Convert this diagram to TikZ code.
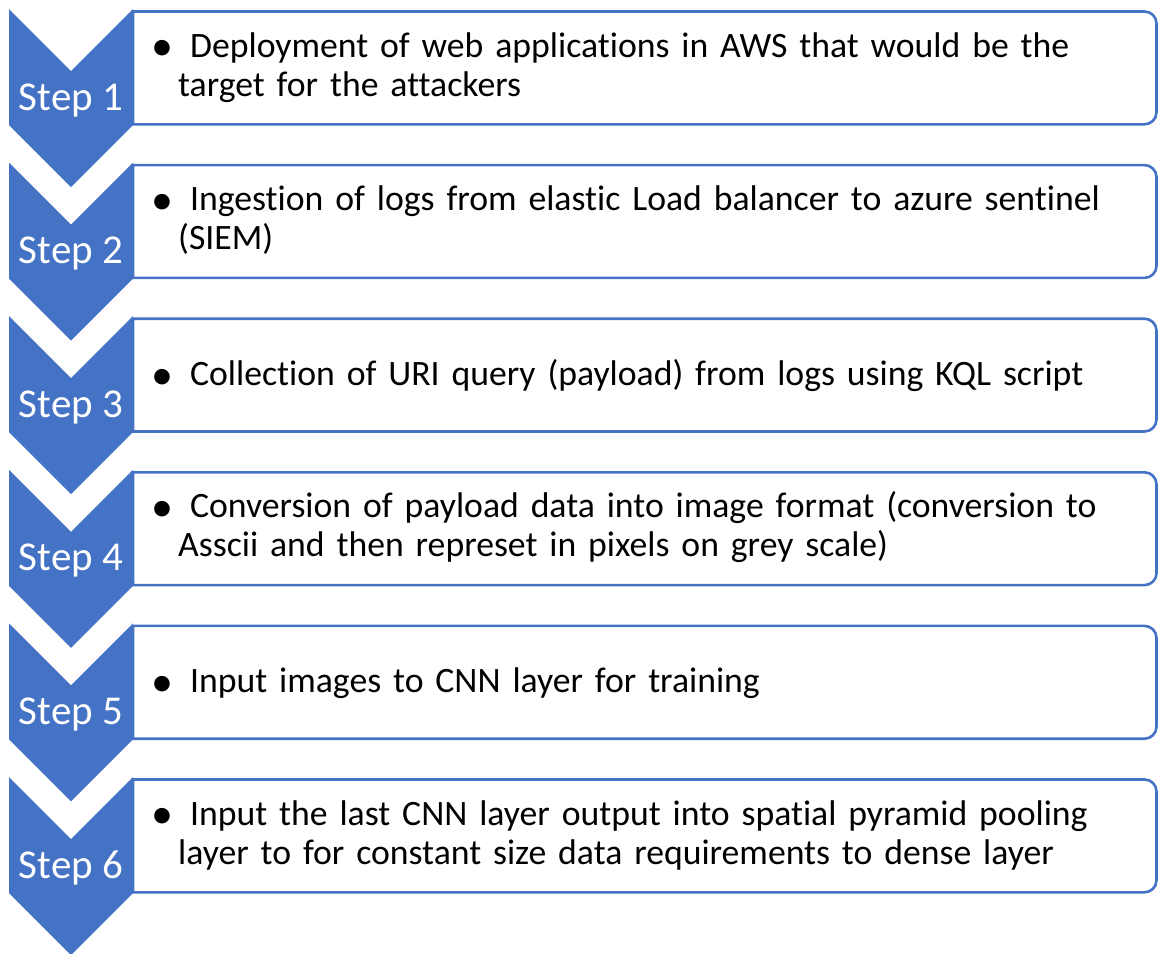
\documentclass[tikz,border=0pt]{standalone}
\usepackage{fontspec}
\setmainfont{Carlito}[Ligatures=NoCommon]
\definecolor{chevblue}{HTML}{4472C4}
\newcommand{\bulletmark}{\llap{\raisebox{-3.5bp}{\fontsize{44bp}{44bp}\selectfont •}\hspace{5bp}}}
\begin{document}
\begin{tikzpicture}[x=1bp,y=-1bp,
  boxline/.style={draw=chevblue,line width=2.6bp,fill=white},
  chevron/.style={fill=chevblue},
  steplabel/.style={text=white,font=\fontsize{41bp}{49bp}\selectfont,anchor=base,inner sep=0pt},
  desc/.style={anchor=base west,inner sep=0pt,text width=975bp,align=left,font=\fontsize{35.7bp}{39bp}\selectfont}]
\useasboundingbox (0,0) rectangle (1159,954);
\foreach \i/\off/\txt in {
  1/45.5/{\bulletmark\ Deployment of web applications in AWS that would be the\\target for the attackers},
  2/45.5/{\bulletmark\ Ingestion of logs from elastic Load balancer to azure sentinel\\(SIEM)},
  3/67/{\bulletmark\ Collection of URI query (payload) from logs using KQL script},
  4/45.5/{\bulletmark\ Conversion of payload data into image format (conversion to\\Asscii and then represet in pixels on grey scale)},
  5/67/{\bulletmark\ Input images to CNN layer for training},
  6/45.5/{\bulletmark\ Input the last CNN layer output into spatial pyramid pooling\\layer to for constant size data requirements to dense layer}%
}{
  \pgfmathsetmacro\ct{9+153.6*(\i-1)}
  \pgfmathsetmacro\bt{11.5+153.6*(\i-1)}
  \pgfmathsetmacro\bb{\bt+112.8}
  \draw[boxline] (133,\bt) -- (1144.5,\bt) arc[start angle=-90,end angle=0,radius=12]
     -- (1156.5,\bb-12) arc[start angle=0,end angle=90,radius=12] -- (133,\bb) -- cycle;
  \fill[chevron] (9,\ct) -- (71,\ct+62) -- (133,\ct) -- (133,\ct+116) -- (71,\ct+178) -- (9,\ct+116) -- cycle;
  \node[steplabel] (s\i) at (71,\ct+101) {Step \i};
  \node[desc] (t\i) at (178,\bt+\off) {\txt};
}
\end{tikzpicture}
\end{document}
